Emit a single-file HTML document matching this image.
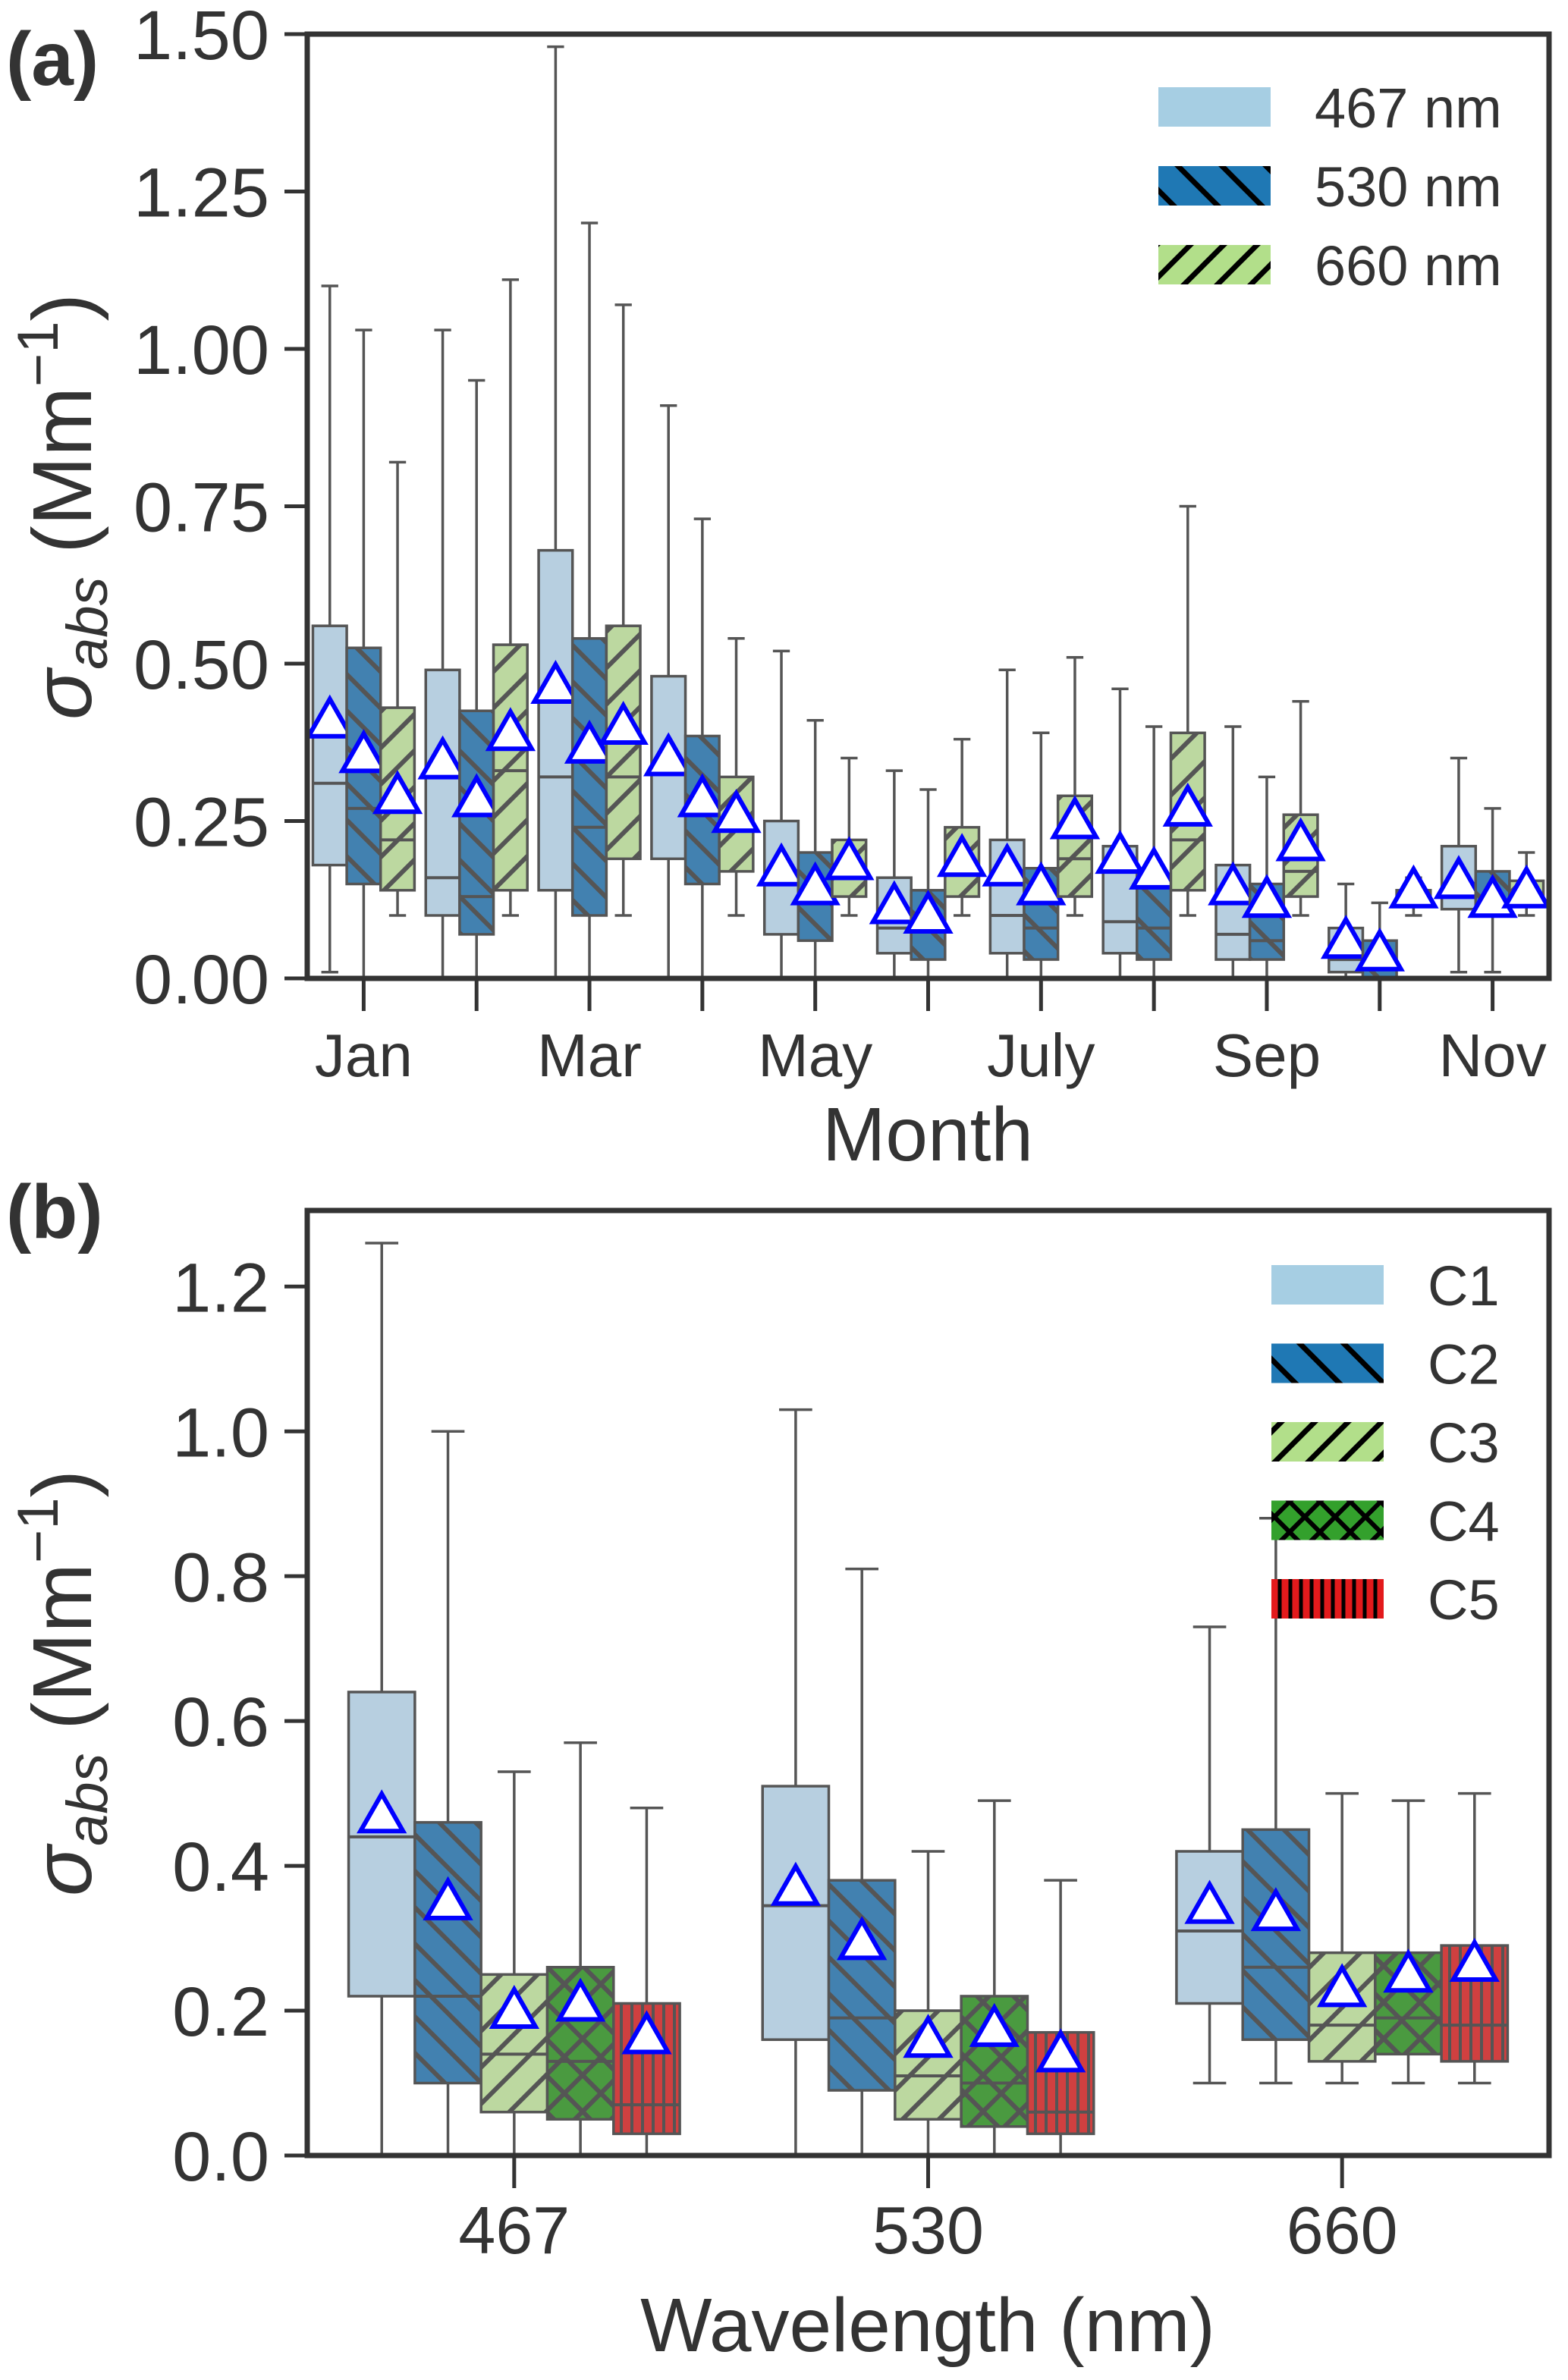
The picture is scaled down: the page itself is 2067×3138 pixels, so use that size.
<!DOCTYPE html>
<html><head><meta charset="utf-8"><style>
html,body{margin:0;padding:0;background:#fff}
svg{display:block;font-family:"Liberation Sans",Arial,sans-serif}
</style></head><body>
<svg id="fig" width="2067" height="3138" viewBox="0 0 2067 3138" xmlns="http://www.w3.org/2000/svg">
<defs>
<pattern id="hBack" patternUnits="userSpaceOnUse" width="48" height="48"><rect width="48" height="48" fill="#4281b0"/><path d="M-12,-12 L60,60 M-12,36 L12,60 M36,-12 L60,12" stroke="#555" stroke-width="6"/></pattern>
<pattern id="hFwd" patternUnits="userSpaceOnUse" width="48" height="48"><rect width="48" height="48" fill="#bcd8a0"/><path d="M-12,60 L60,-12 M-12,12 L12,-12 M36,60 L60,36" stroke="#555" stroke-width="6"/></pattern>
<pattern id="hCross" patternUnits="userSpaceOnUse" width="48" height="48"><rect width="48" height="48" fill="#4a9a40"/><path d="M-12,-12 L60,60 M-12,60 L60,-12" stroke="#555" stroke-width="6"/></pattern>
<pattern id="hVert" patternUnits="userSpaceOnUse" width="14" height="14"><rect width="14" height="14" fill="#d04040"/><path d="M7,0 L7,14" stroke="#555" stroke-width="4"/></pattern>
<pattern id="lBack" patternUnits="userSpaceOnUse" width="58" height="58"><rect width="58" height="58" fill="#1f78b4"/><path d="M-15,-15 L73,73 M-15,43 L15,73 M43,-15 L73,15" stroke="#000" stroke-width="7"/></pattern>
<pattern id="lFwd" patternUnits="userSpaceOnUse" width="44" height="44"><rect width="44" height="44" fill="#b2df8a"/><path d="M-11,55 L55,-11 M-11,11 L11,-11 M33,55 L55,33" stroke="#000" stroke-width="7"/></pattern>
<pattern id="lCross" patternUnits="userSpaceOnUse" width="40" height="40"><rect width="40" height="40" fill="#33a02c"/><path d="M-10,-10 L50,50 M-10,50 L50,-10" stroke="#000" stroke-width="6"/></pattern>
<pattern id="lVert" patternUnits="userSpaceOnUse" width="14" height="14"><rect width="14" height="14" fill="#e31a1c"/><path d="M7,0 L7,14" stroke="#000" stroke-width="5"/></pattern>
</defs>
<g id="pa"></g>
<g id="pb"></g>
</svg>
<script>
// Panel (a) data: [whiskerLow, q1, median, q3, whiskerHigh, mean]
const monthCats = ["Jan","Feb","Mar","Apr","May","Jun","Jul","Aug","Sep","Oct","Nov"];
const monthTickLabels = ["Jan","","Mar","","May","","July","","Sep","","Nov"];
const seriesA467 = [[0.01,0.18,0.31,0.56,1.10,0.41],[0,0.10,0.16,0.49,1.03,0.345],[0,0.14,0.32,0.68,1.48,0.465],[0,0.19,0.34,0.48,0.91,0.35],[0,0.07,0.15,0.25,0.52,0.175],[0,0.04,0.08,0.16,0.33,0.115],[0,0.04,0.10,0.22,0.49,0.175],[0,0.04,0.09,0.21,0.46,0.195],[0,0.03,0.07,0.18,0.40,0.145],[0,0.01,0.03,0.08,0.15,0.06],[0.01,0.11,0.13,0.21,0.35,0.155]];
const seriesA530 = [[0,0.15,0.27,0.525,1.03,0.355],[0,0.07,0.13,0.425,0.95,0.285],[0,0.10,0.24,0.54,1.20,0.37],[0,0.15,0.26,0.385,0.73,0.285],[0,0.06,0.14,0.20,0.41,0.145],[0,0.03,0.08,0.14,0.30,0.10],[0,0.03,0.08,0.175,0.39,0.145],[0,0.03,0.08,0.16,0.40,0.17],[0,0.03,0.06,0.15,0.32,0.125],[0,0.0,0.02,0.06,0.12,0.04],[0.01,0.10,0.12,0.17,0.27,0.125]];
const seriesA660 = [[0.10,0.14,0.22,0.43,0.82,0.29],[0.10,0.14,0.33,0.53,1.11,0.39],[0.10,0.19,0.32,0.56,1.07,0.40],[0.10,0.17,0.25,0.32,0.54,0.26],[0.10,0.13,0.17,0.22,0.35,0.185],[0.10,0.13,0.17,0.24,0.38,0.19],[0.10,0.13,0.19,0.29,0.51,0.25],[0.10,0.14,0.22,0.39,0.75,0.27],[0.10,0.13,0.17,0.26,0.44,0.215],[0.10,0.12,0.13,0.14,0.16,0.14],[0.10,0.12,0.13,0.155,0.20,0.14]];
const yTicksA = [0,0.25,0.5,0.75,1.0,1.25,1.5];
const yTickLabelsA = ["0.00","0.25","0.50","0.75","1.00","1.25","1.50"];
const legendA = ["467 nm","530 nm","660 nm"];
// Panel (b)
const waveCats = ["467","530","660"];
const seriesC1 = [[0,0.22,0.44,0.64,1.26,0.47],[0,0.16,0.345,0.51,1.03,0.37],[0.10,0.21,0.31,0.42,0.73,0.345]];
const seriesC2 = [[0,0.10,0.22,0.46,1.00,0.35],[0,0.09,0.19,0.38,0.81,0.295],[0.10,0.16,0.26,0.45,0.88,0.335]];
const seriesC3 = [[0,0.06,0.14,0.25,0.53,0.20],[0,0.05,0.11,0.20,0.42,0.16],[0.10,0.13,0.18,0.28,0.50,0.23]];
const seriesC4 = [[0,0.05,0.13,0.26,0.57,0.21],[0,0.04,0.10,0.22,0.49,0.175],[0.10,0.14,0.19,0.28,0.49,0.25]];
const seriesC5 = [[0,0.03,0.07,0.21,0.48,0.165],[0,0.03,0.06,0.17,0.38,0.14],[0.10,0.13,0.18,0.29,0.50,0.265]];
const yTicksB = [0,0.2,0.4,0.6,0.8,1.0,1.2];
const yTickLabelsB = ["0.0","0.2","0.4","0.6","0.8","1.0","1.2"];
const legendB = ["C1","C2","C3","C4","C5"];

const NS="http://www.w3.org/2000/svg";
function mk(parent,tag,attrs,text){const e=document.createElementNS(NS,tag);for(const k in attrs)e.setAttribute(k,attrs[k]);if(text!==undefined)e.textContent=text;parent.appendChild(e);return e;}

function panel(g,opt){
  const L=405,R=2042,T=opt.top,B=opt.bottom;
  const y=v=>B-(v-0)/(opt.ymax)*(B-T);
  const band=(R-L)/opt.cats.length;
  const xc=i=>L+band*(i+0.5);
  const n=opt.series.length, bw=band*opt.frac/n;
  opt.series.forEach((ser,si)=>{
    ser.forEach((d,i)=>{
      const cx=xc(i)-band*opt.frac/2+bw*(si+0.5);
      const bg=mk(g,'g',{});
      
      
      mk(bg,'line',{x1:cx,x2:cx,y1:y(d[0]),y2:y(d[1]),stroke:'#555','stroke-width':3.5});
      mk(bg,'line',{x1:cx,x2:cx,y1:y(d[3]),y2:y(d[4]),stroke:'#555','stroke-width':3.5});
      mk(bg,'line',{x1:cx-bw/4,x2:cx+bw/4,y1:y(d[0]),y2:y(d[0]),stroke:'#555','stroke-width':3.5});
      mk(bg,'line',{x1:cx-bw/4,x2:cx+bw/4,y1:y(d[4]),y2:y(d[4]),stroke:'#555','stroke-width':3.5});
      mk(bg,'rect',{x:cx-bw/2,y:y(d[3]),width:bw,height:y(d[1])-y(d[3]),fill:opt.fills[si],stroke:'#555','stroke-width':3.5});
      mk(bg,'line',{x1:cx-bw/2,x2:cx+bw/2,y1:y(d[2]),y2:y(d[2]),stroke:'#555','stroke-width':4});
      const my=y(d[5]), s=28;
      const tri=mk(bg,'polygon',{points:`${cx},${my-s} ${cx-s},${my+s*0.75} ${cx+s},${my+s*0.75}`,fill:'#fff',stroke:'#0000ff','stroke-width':6});
      
      
    });
  });
  const fr=mk(g,'rect',{x:L,y:T,width:R-L,height:B-T,fill:'none',stroke:'#333','stroke-width':7});
  
  
  opt.yt.forEach((v,i)=>{
    mk(g,'line',{x1:L-30,x2:L,y1:y(v),y2:y(v),stroke:'#333','stroke-width':5});
    const t=mk(g,'text',{x:L-50,y:y(v)+opt.yfs*0.36,'text-anchor':'end','font-size':opt.yfs,fill:'#333'},opt.ytl[i]);
    
    
  });
  opt.cats.forEach((c,i)=>{
    mk(g,'line',{x1:xc(i),x2:xc(i),y1:B,y2:B+43,stroke:'#333','stroke-width':5});
    if(opt.xtl[i]){const t=mk(g,'text',{x:xc(i),y:B+129,'text-anchor':'middle','font-size':opt.xfs,fill:'#333'},opt.xtl[i]);
    
    }
  });
  opt.leg.forEach((l,i)=>{
    const cy=opt.legY+i*opt.legDy;
    const lg=mk(g,'g',{});
    
    
    mk(lg,'rect',{x:opt.legX,y:cy-26,width:148,height:52,fill:opt.legFills[i]});
    mk(lg,'text',{x:opt.legX+206,y:cy+27,'font-size':74,fill:'#333'},l);
  });
}

const pa=document.getElementById('pa');
panel(pa,{top:45,bottom:1290,ymax:1.5,yfs:92,xfs:80,cats:monthCats,xtl:monthTickLabels,series:[seriesA467,seriesA530,seriesA660],names:['467','530','660'],
  fills:['#b7cfe0','url(#hBack)','url(#hFwd)'],frac:0.9,yt:yTicksA,ytl:yTickLabelsA,leg:legendA,legFills:['#a6cee3','url(#lBack)','url(#lFwd)'],legX:1527,legY:141,legDy:104});
const pb=document.getElementById('pb');
panel(pb,{top:1596,bottom:2842,ymax:1.305,yfs:92,xfs:88,cats:waveCats,xtl:waveCats,series:[seriesC1,seriesC2,seriesC3,seriesC4,seriesC5],names:['C1','C2','C3','C4','C5'],
  fills:['#b7cfe0','url(#hBack)','url(#hFwd)','url(#hCross)','url(#hVert)'],frac:0.8,yt:yTicksB,ytl:yTickLabelsB,leg:legendB,legFills:['#a6cee3','url(#lBack)','url(#lFwd)','url(#lCross)','url(#lVert)'],legX:1676,legY:1694,legDy:103.5});

function ylab(g,cy,name,fs){
  const t=mk(g,'text',{transform:`translate(120,${cy}) rotate(-90)`,'text-anchor':'middle','font-size':fs,fill:'#333'});
  
  
  mk(t,'tspan',{'font-style':'italic'},'σ');
  mk(t,'tspan',{'font-style':'italic','font-size':fs*0.69,dy:fs*0.19},'abs');
  mk(t,'tspan',{dy:-fs*0.19},' (Mm');
  mk(t,'tspan',{'font-size':fs*0.69,dy:-fs*0.4},'−1');
  mk(t,'tspan',{dy:fs*0.4},')');
}
ylab(pa,668,'y-axis-title-a',110);
ylab(pb,2219,'y-axis-title-b',110);
let t;
t=mk(pa,'text',{x:1223,y:1530,'text-anchor':'middle','font-size':100,fill:'#333'},'Month');


t=mk(pb,'text',{x:1223,y:3100,'text-anchor':'middle','font-size':100,fill:'#333'},'Wavelength (nm)');


t=mk(pa,'text',{x:8,y:112,'font-size':100,'font-weight':'bold',fill:'#333'},'(a)');


t=mk(pb,'text',{x:8,y:1632,'font-size':100,'font-weight':'bold',fill:'#333'},'(b)');


</script>
</body></html>
